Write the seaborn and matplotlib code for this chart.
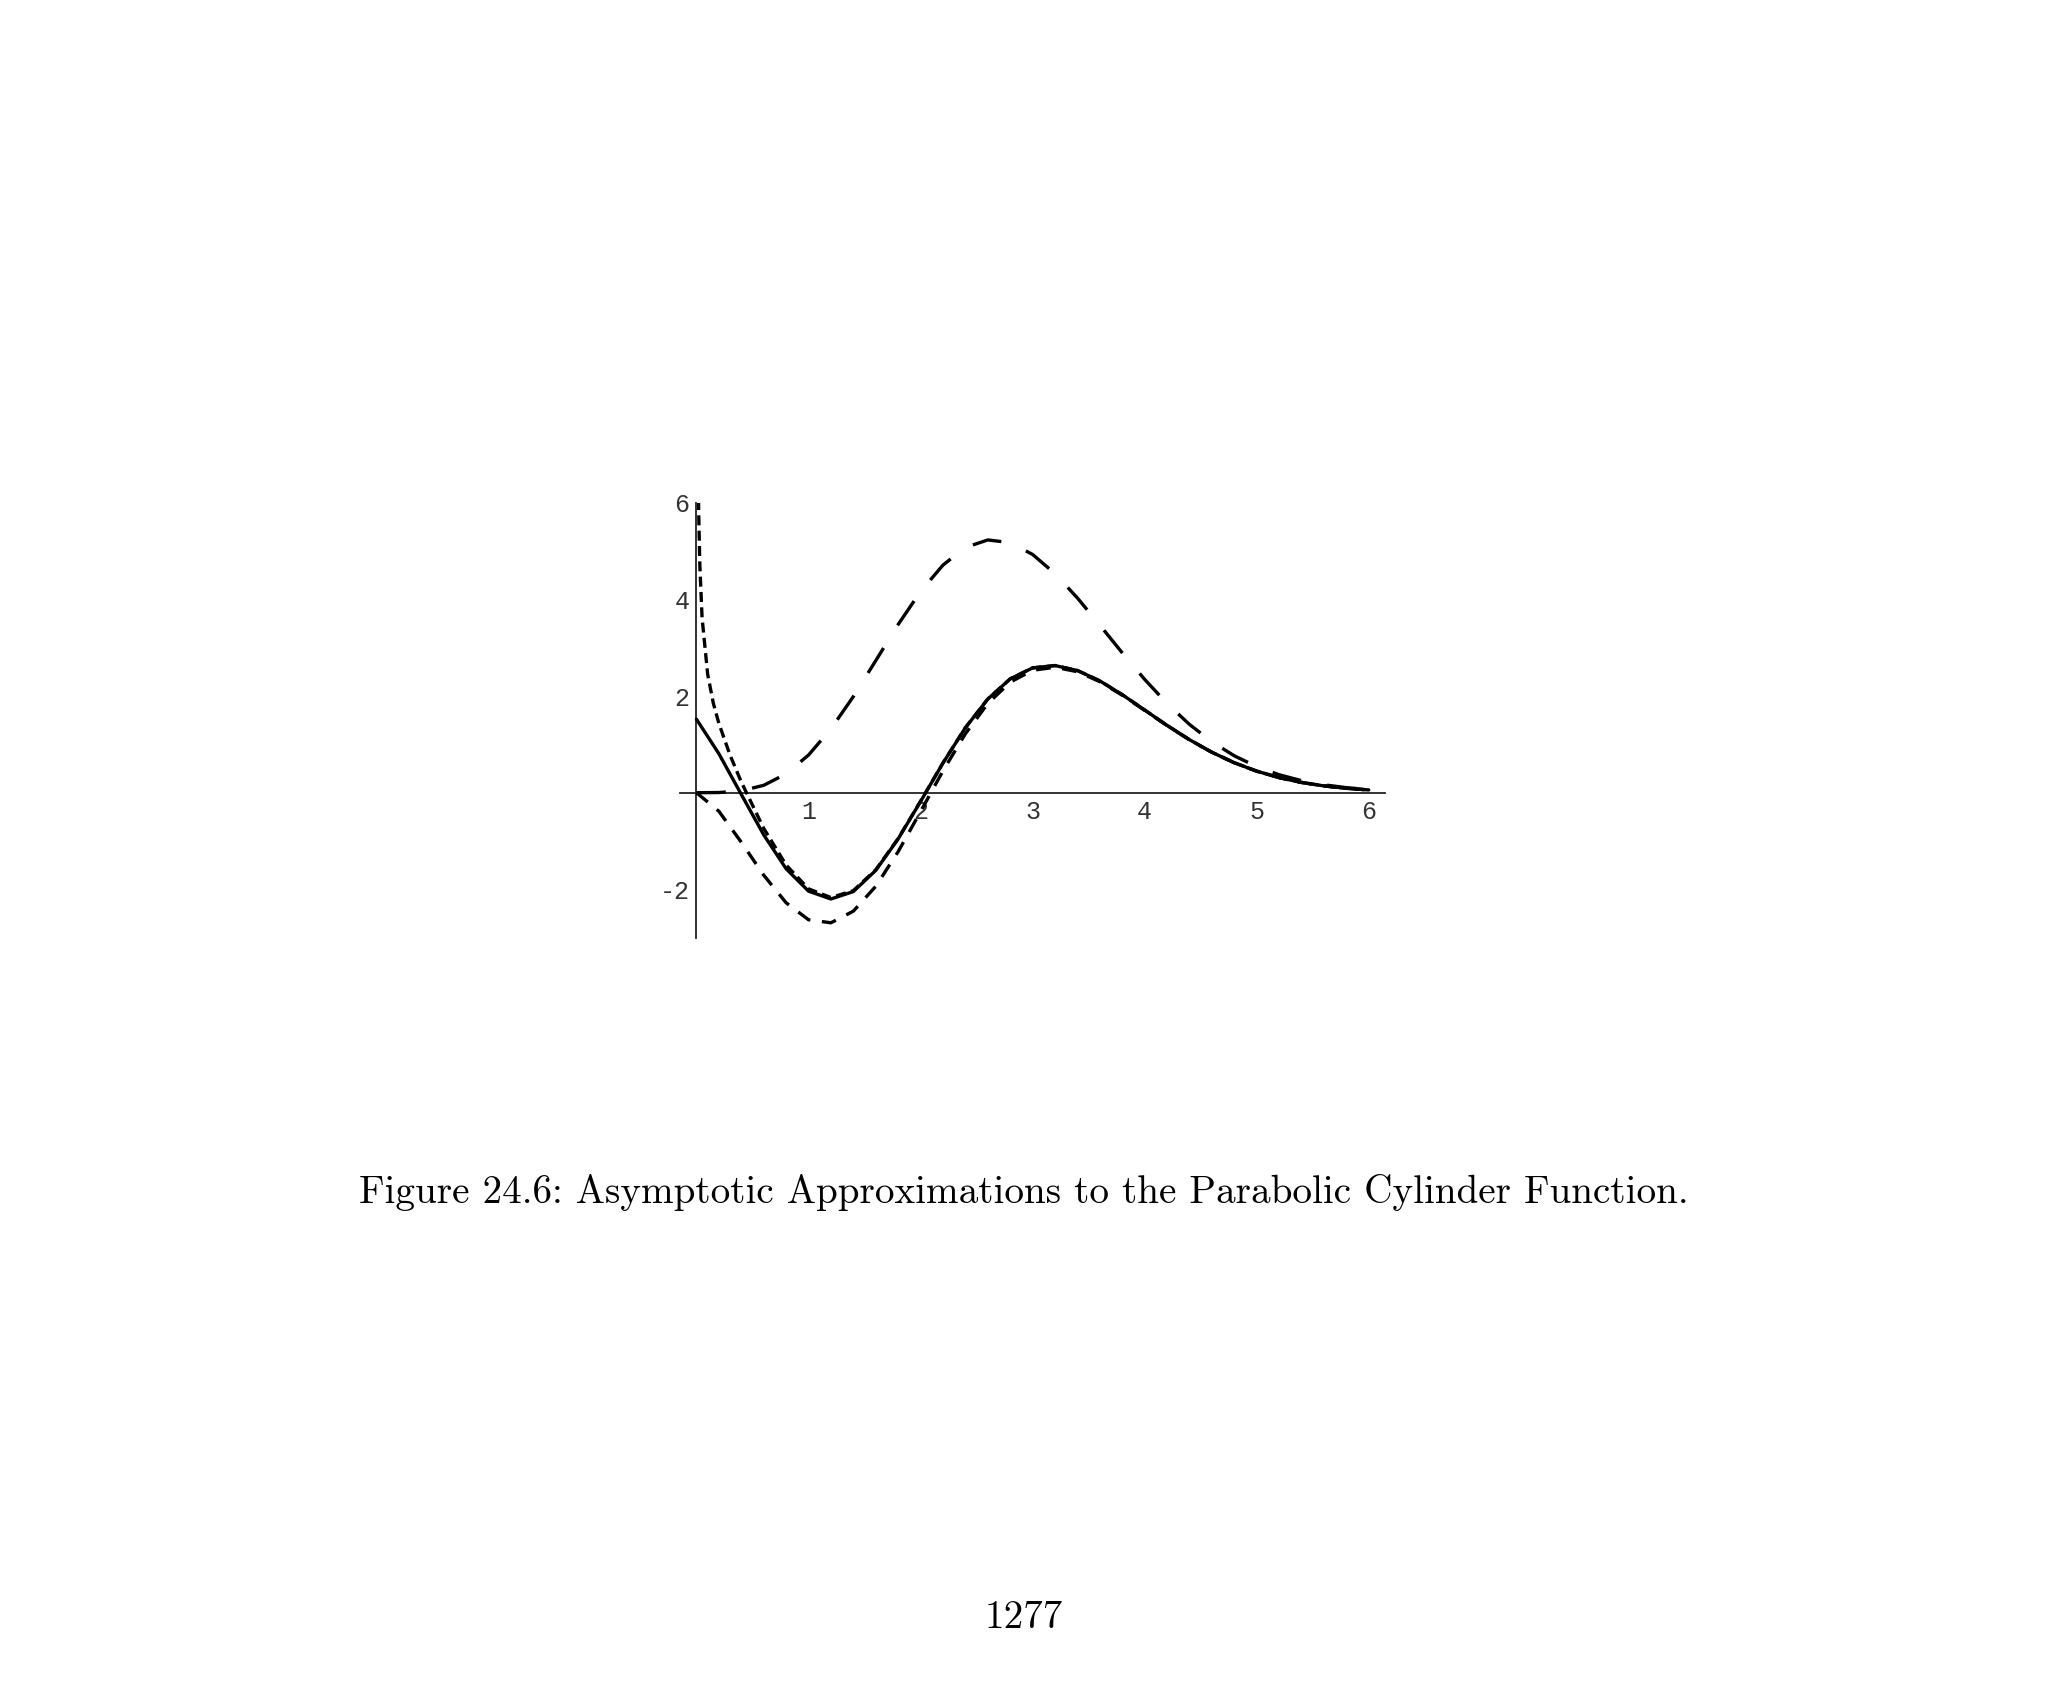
import matplotlib
matplotlib.use('Agg')
import matplotlib.pyplot as plt
from matplotlib.ticker import MultipleLocator, FixedLocator
import seaborn as sns

# sample points, step 0.2 on [0, 6]
x_vals = [0.0, 0.2, 0.4, 0.6, 0.8, 1.0, 1.2, 1.4, 1.6, 1.8, 2.0,
          2.2, 2.4, 2.6, 2.8, 3.0, 3.2, 3.4, 3.6, 3.8, 4.0,
          4.2, 4.4, 4.6, 4.8, 5.0, 5.2, 5.4, 5.6, 5.8, 6.0]

# solid: the function itself
exact_vals = [1.5203, 0.8061, -0.0352, -0.8712, -1.5731, -2.0368, -2.1992,
              -2.0453, -1.6076, -0.9556, -0.1823, 0.6139, 1.3432, 1.9373,
              2.3549, 2.5823, 2.6303, 2.5281, 2.3131, 2.0281, 1.7109,
              1.3927, 1.0967, 0.8368, 0.6197, 0.4459, 0.3120, 0.2124,
              0.1409, 0.0911, 0.0574]

# long dashes: leading term
leading_vals = [0.0, 0.0035, 0.0389, 0.1529, 0.3902, 0.7788, 1.3207,
                1.9891, 2.7319, 3.4808, 4.1621, 4.7096, 5.0741, 5.2294,
                5.1742, 4.9291, 4.5311, 4.0281, 3.4666, 2.8934, 2.3445,
                1.8456, 1.4129, 1.0525, 0.7635, 0.5396, 0.3717, 0.2497,
                0.1636, 0.1046, 0.0653]

# medium dashes: two terms
two_term_vals = [0.0, -0.3839, -1.0245, -1.7054, -2.2774, -2.6285, -2.6918,
                 -2.4508, -1.9369, -1.2194, -0.3902, 0.4525, 1.2201, 1.8450,
                 2.2868, 2.5330, 2.5952, 2.5036, 2.2963, 2.0168, 1.7034,
                 1.3878, 1.0936, 0.8349, 0.6185, 0.4452, 0.3115, 0.2122,
                 0.1408, 0.0910, 0.0574]

# short dashes: three terms (blows up at 0)
x_short = [0.015, 0.02, 0.03, 0.05, 0.1, 0.15, 0.2, 0.3, 0.4, 0.6, 0.8,
           1.0, 1.2, 1.4, 1.6, 1.8, 2.0, 2.2, 2.4, 2.6, 2.8, 3.0,
           3.2, 3.4, 3.6, 3.8, 4.0, 4.2, 4.4, 4.6, 4.8, 5.0,
           5.2, 5.4, 5.6, 5.8, 6.0]
three_term_vals = [6.6899, 5.7875, 4.7123, 3.6174, 2.4499, 1.8547, 1.4322,
                   0.7759, 0.2217, -0.7375, -1.4959, -1.9896, -2.1693,
                   -2.0261, -1.5949, -0.9474, -0.1768, 0.6174, 1.3455,
                   1.9389, 2.3559, 2.5829, 2.6307, 2.5283, 2.3133, 2.0282,
                   1.7109, 1.3927, 1.0967, 0.8369, 0.6197, 0.4459, 0.3120,
                   0.2125, 0.1409, 0.0911, 0.0574]

caption = "Figure 24.6: Asymptotic Approximations to the Parabolic Cylinder Function."
page_no = "1277"

sns.set_style('white')
plt.rcParams['font.family'] = ['Liberation Mono', 'DejaVu Sans']
plt.rcParams['axes.unicode_minus'] = False

fig = plt.figure(figsize=(20.48, 16.87), dpi=100)
ax = fig.add_axes([680 / 2048, 1 - 937.7 / 1687, 705 / 2048, 435 / 1687])

lw = 2.4
sns.lineplot(x=x_vals, y=exact_vals, ax=ax, color='black', lw=lw,
             estimator=None, zorder=3)
sns.lineplot(x=x_short, y=three_term_vals, ax=ax, color='black', lw=lw,
             estimator=None, linestyle=(0, (3.0, 1.6)), zorder=3)
sns.lineplot(x=x_vals, y=two_term_vals, ax=ax, color='black', lw=lw,
             estimator=None, linestyle=(0, (4.4, 3.5)), zorder=3)
sns.lineplot(x=x_vals, y=leading_vals, ax=ax, color='black', lw=lw,
             estimator=None, linestyle=(0, (8.8, 8.0)), zorder=3)

ax.set_xlim(-0.147, 6.145)
ax.set_ylim(-3, 6)
ax.set_xlabel('')
ax.set_ylabel('')

for side in ['top', 'right']:
    ax.spines[side].set_visible(False)
ax.spines['left'].set_position(('data', 0))
ax.spines['bottom'].set_position(('data', 0))
for side in ['left', 'bottom']:
    ax.spines[side].set_color('#222222')
    ax.spines[side].set_linewidth(1.3)

ax.xaxis.set_major_locator(FixedLocator([1, 2, 3, 4, 5, 6]))
ax.xaxis.set_minor_locator(MultipleLocator(0.2))
ax.yaxis.set_major_locator(FixedLocator([-2, 2, 4, 6]))
ax.yaxis.set_minor_locator(MultipleLocator(0.4))
ax.tick_params(which='both', direction='in', color='#222222', width=1.0)
ax.tick_params(which='major', length=4.5, labelsize=18, pad=5,
               labelcolor='#333333')
ax.tick_params(which='minor', length=2.6)

fig.text(0.5, 1 - 1202.7 / 1687, caption, ha='center', va='baseline',
         fontsize=28.2, family='cmr10', color='black')
fig.text(0.5, 1 - 1628 / 1687, page_no, ha='center', va='baseline',
         fontsize=28.2, family='cmr10', color='black')

fig.savefig('out.png', dpi=100, facecolor='white')
